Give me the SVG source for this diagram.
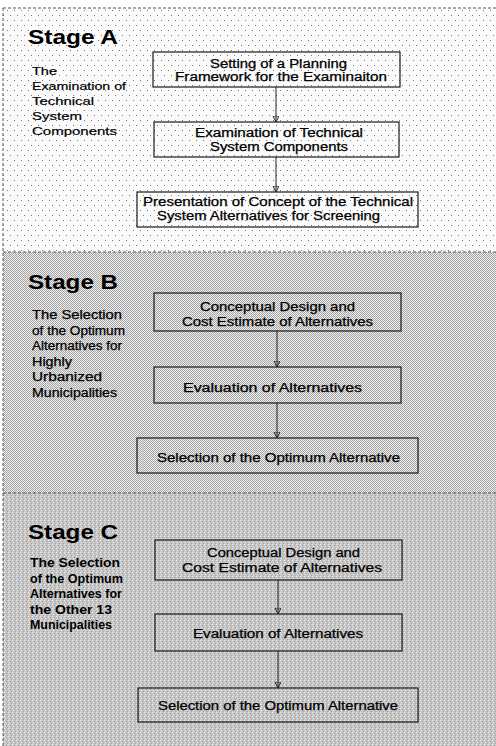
<svg xmlns="http://www.w3.org/2000/svg" width="496" height="746" viewBox="0 0 496 746">
<defs>
<style>
.title{font-family:"Liberation Sans",Arial,sans-serif;font-weight:bold;font-size:20px;fill:#000}
.subA{font-family:"Liberation Sans",Arial,sans-serif;font-size:11.5px;fill:#000;stroke:#000;stroke-width:0.2}
.subB{font-family:"Liberation Sans",Arial,sans-serif;font-size:12px;fill:#000;stroke:#000;stroke-width:0.25}
.subC{font-family:"Liberation Sans",Arial,sans-serif;font-size:12px;font-weight:bold;fill:#000}
.lbl{font-family:"Liberation Sans",Arial,sans-serif;font-size:12px;fill:#000;stroke:#000;stroke-width:0.25}
.box{fill:none;stroke:#1a1a1a;stroke-width:1.2}
.conn{fill:none;stroke:#222;stroke-width:1;marker-end:url(#arr)}
.border{fill:none;stroke:#555;stroke-width:1;stroke-dasharray:3 2}
</style>
<pattern id="pA" width="7" height="10" patternUnits="userSpaceOnUse">
<rect width="7" height="10" fill="#fbfbfb"/>
<rect x="0" y="0" width="1" height="1" fill="#777"/>
<rect x="3" y="5" width="1" height="1" fill="#777"/>
</pattern>
<pattern id="pB" width="2" height="2" patternUnits="userSpaceOnUse">
<rect width="2" height="2" fill="#eeeeee"/>
<rect x="0" y="0" width="1" height="1" fill="#a4a4a4"/>
<rect x="1" y="1" width="1" height="1" fill="#a4a4a4"/>
</pattern>
<pattern id="pC" width="4" height="4" patternUnits="userSpaceOnUse">
<rect width="4" height="4" fill="#c6c6c6"/>
<rect x="0" y="0" width="1" height="1" fill="#eeeeee"/>
<rect x="2" y="1" width="1" height="1" fill="#9a9a9a"/>
<rect x="1" y="2" width="1" height="1" fill="#e4e4e4"/>
<rect x="3" y="3" width="1" height="1" fill="#a4a4a4"/>
</pattern>
<marker id="arr" markerWidth="8" markerHeight="8" refX="6" refY="3" orient="auto" markerUnits="userSpaceOnUse">
<path d="M0,0 L6,3 L0,6 z" fill="none" stroke="#222" stroke-width="1"/>
</marker>
</defs>

<rect width="496" height="746" fill="#ffffff"/>

<g id="stage-backgrounds">
<rect x="3" y="8" width="493" height="244" fill="url(#pA)"/>
<rect x="3" y="252" width="493" height="241" fill="url(#pB)"/>
<rect x="3" y="493" width="493" height="253" fill="url(#pC)"/>
<line class="border" x1="3" y1="8" x2="496" y2="8"/>
<line class="border" x1="3" y1="8" x2="3" y2="746"/>
<line class="border" x1="3" y1="252" x2="496" y2="252" stroke-dasharray="4 2"/>
<line class="border" x1="3" y1="493" x2="496" y2="493"/>
</g>

<g id="stageA-label">
<text class="title" x="28" y="44" textLength="90" lengthAdjust="spacingAndGlyphs">Stage A</text>
<text class="subA" x="32" y="75" textLength="25" lengthAdjust="spacingAndGlyphs">The</text>
<text class="subA" x="32" y="90" textLength="94" lengthAdjust="spacingAndGlyphs">Examination of</text>
<text class="subA" x="32" y="105" textLength="62" lengthAdjust="spacingAndGlyphs">Technical</text>
<text class="subA" x="32" y="120" textLength="50" lengthAdjust="spacingAndGlyphs">System</text>
<text class="subA" x="32" y="135" textLength="85" lengthAdjust="spacingAndGlyphs">Components</text>
</g>

<g id="stageB-label">
<text class="title" x="28" y="289" textLength="90" lengthAdjust="spacingAndGlyphs">Stage B</text>
<text class="subB" x="32" y="319" textLength="90" lengthAdjust="spacingAndGlyphs">The Selection</text>
<text class="subB" x="32" y="334.5" textLength="93" lengthAdjust="spacingAndGlyphs">of the Optimum</text>
<text class="subB" x="32" y="350" textLength="90" lengthAdjust="spacingAndGlyphs">Alternatives for</text>
<text class="subB" x="32" y="365.5" textLength="40" lengthAdjust="spacingAndGlyphs">Highly</text>
<text class="subB" x="32" y="381" textLength="70" lengthAdjust="spacingAndGlyphs">Urbanized</text>
<text class="subB" x="32" y="396.5" textLength="85" lengthAdjust="spacingAndGlyphs">Municipalities</text>
</g>

<g id="stageC-label">
<text class="title" x="28" y="539" textLength="90" lengthAdjust="spacingAndGlyphs">Stage C</text>
<text class="subC" x="30" y="567" textLength="90" lengthAdjust="spacingAndGlyphs">The Selection</text>
<text class="subC" x="30" y="582.5" textLength="93" lengthAdjust="spacingAndGlyphs">of the Optimum</text>
<text class="subC" x="30" y="598" textLength="92" lengthAdjust="spacingAndGlyphs">Alternatives for</text>
<text class="subC" x="30" y="613.5" textLength="82" lengthAdjust="spacingAndGlyphs">the Other 13</text>
<text class="subC" x="30" y="629" textLength="82" lengthAdjust="spacingAndGlyphs">Municipalities</text>
</g>

<g id="connectors">
<line class="conn" x1="276" y1="87" x2="276" y2="122"/>
<line class="conn" x1="276" y1="157" x2="276" y2="192"/>
<line class="conn" x1="277" y1="331" x2="277" y2="367"/>
<line class="conn" x1="277" y1="403" x2="277" y2="438"/>
<line class="conn" x1="278" y1="580" x2="278" y2="614"/>
<line class="conn" x1="278" y1="651" x2="278" y2="688"/>
</g>

<g id="A1">
<rect class="box" x="153" y="52" width="247" height="35"/>
<text class="lbl" x="210" y="68" textLength="137" lengthAdjust="spacingAndGlyphs">Setting of a Planning</text>
<text class="lbl" x="175" y="81" textLength="212" lengthAdjust="spacingAndGlyphs">Framework for the Examinaiton</text>
</g>
<g id="A2">
<rect class="box" x="154" y="122" width="245" height="35"/>
<text class="lbl" x="195" y="137" textLength="168" lengthAdjust="spacingAndGlyphs">Examination of Technical</text>
<text class="lbl" x="210" y="151" textLength="138" lengthAdjust="spacingAndGlyphs">System Components</text>
</g>
<g id="A3">
<rect class="box" x="137" y="192" width="281" height="35"/>
<text class="lbl" x="143" y="206" textLength="270" lengthAdjust="spacingAndGlyphs">Presentation of Concept of the Technical</text>
<text class="lbl" x="157" y="220" textLength="223" lengthAdjust="spacingAndGlyphs">System Alternatives for Screening</text>
</g>

<g id="B1">
<rect class="box" x="154" y="293" width="247" height="38"/>
<text class="lbl" x="200" y="311" textLength="155" lengthAdjust="spacingAndGlyphs">Conceptual Design and</text>
<text class="lbl" x="182" y="326" textLength="191" lengthAdjust="spacingAndGlyphs">Cost Estimate of Alternatives</text>
</g>
<g id="B2">
<rect class="box" x="154" y="367" width="247" height="36"/>
<text class="lbl" x="183" y="392" textLength="179" lengthAdjust="spacingAndGlyphs">Evaluation of Alternatives</text>
</g>
<g id="B3">
<rect class="box" x="137" y="438" width="281" height="35"/>
<text class="lbl" x="157" y="462" textLength="243" lengthAdjust="spacingAndGlyphs">Selection of the Optimum Alternative</text>
</g>

<g id="C1">
<rect class="box" x="155" y="540" width="247" height="40"/>
<text class="lbl" x="207" y="557" textLength="153" lengthAdjust="spacingAndGlyphs">Conceptual Design and</text>
<text class="lbl" x="182" y="572" textLength="200" lengthAdjust="spacingAndGlyphs">Cost Estimate of Alternatives</text>
</g>
<g id="C2">
<rect class="box" x="155" y="614" width="247" height="37"/>
<text class="lbl" x="193" y="638" textLength="170" lengthAdjust="spacingAndGlyphs">Evaluation of Alternatives</text>
</g>
<g id="C3">
<rect class="box" x="138" y="688" width="280" height="34"/>
<text class="lbl" x="158" y="710" textLength="240" lengthAdjust="spacingAndGlyphs">Selection of the Optimum Alternative</text>
</g>
</svg>
